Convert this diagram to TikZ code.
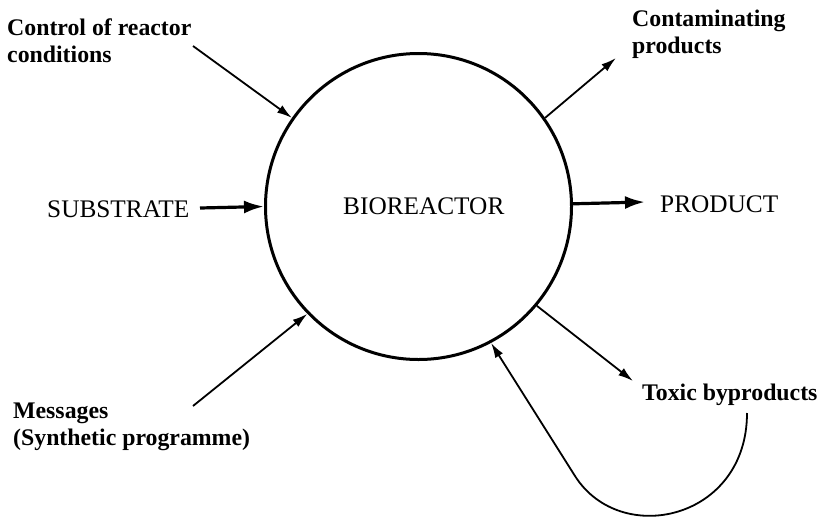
\documentclass[tikz,border=0pt]{standalone}
\usepackage{fontspec}
\setmainfont{Liberation Serif}
\usetikzlibrary{arrows.meta}
\begin{document}
\begin{tikzpicture}[x=1pt,y=-1pt,
  caps/.style={font=\fontsize{25.3}{28}\selectfont, inner sep=0pt, anchor=base west},
  note/.style={font=\bfseries\fontsize{23.8}{26.5}\selectfont, inner sep=0pt, anchor=base west, align=left},
  flow/.style={line width=1.8pt, -{Latex[length=15pt,width=9pt]}},
  mainflow/.style={line width=3.2pt, -{Latex[length=20pt,width=13pt]}},
  loopline/.style={line width=1.8pt, -{Latex[length=15pt,width=9pt]}},
]
\useasboundingbox (0,0) rectangle (824,517);

% the reactor vessel
\node[circle, draw, line width=3pt, minimum size=306pt, inner sep=0pt] (bio) at (418.5,206.5) {};
\node[caps] (biolabel) at (343,214) {BIOREACTOR};

% labels (two-line labels are placed by the baseline of their last line)
\node[note] (ctl) at (7,62) {Control of reactor\\conditions};
\node[note] (cont) at (632,53) {Contaminating\\products};
\node[caps] (sub) at (47,217) {SUBSTRATE};
\node[caps] (prod) at (660,212) {PRODUCT};
\node[note] (msg) at (13,445) {Messages\\(Synthetic programme)};
\node[note] (tox) at (642,400) {Toxic byproducts};

% free ends of the connectors
\coordinate (ctlend) at (193,46);
\coordinate (contend) at (616,58);
\coordinate (subend) at (200,208);
\coordinate (prodend) at (645,202);
\coordinate (msgend) at (193,406);
\coordinate (toxend) at (633,381);
\coordinate (loopstart) at (747,413);
\coordinate (loopbend) at (575,476);

% inputs and outputs
\draw[flow] (ctlend) -- (bio.145);
\draw[flow] (bio.35.7) -- (contend);
\draw[mainflow] (subend) -- (bio.180);
\draw[mainflow] (bio.1.7) -- (prodend);
\draw[flow] (msgend) -- (bio.224);
\draw[flow] (bio.-40) -- (toxend);

% recycling loop back into the reactor
\draw[loopline] (loopstart) .. controls (747,520) and (620.5,547.8) .. (loopbend) -- (bio.-62);
\end{tikzpicture}
\end{document}
